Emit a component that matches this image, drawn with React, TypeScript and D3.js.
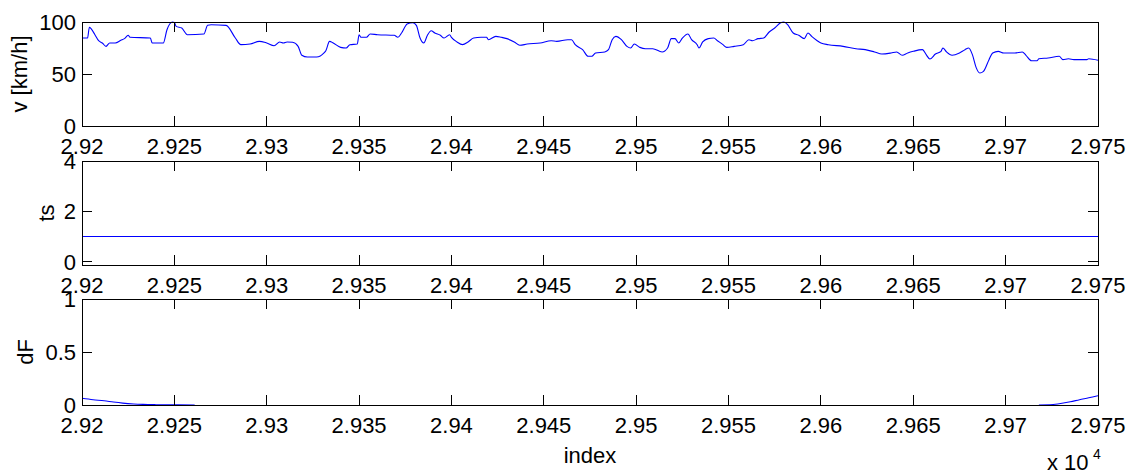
import React from 'react';
import * as d3 from 'd3';

// ---------- data ----------
const xTickValues = [29200, 29250, 29300, 29350, 29400, 29450, 29500, 29550, 29600, 29650, 29700, 29750];
const xTickLabels = ['2.92', '2.925', '2.93', '2.935', '2.94', '2.945', '2.95', '2.955', '2.96', '2.965', '2.97', '2.975'];

const vIndex = [
  29200, 29203, 29204, 29205, 29207, 29209, 29211, 29213, 29215, 29218, 29221, 29223, 29225, 29226, 29237, 29238,
  29244, 29246, 29249, 29250, 29251, 29254, 29257, 29266, 29268, 29270, 29278, 29283, 29286, 29291, 29296, 29300,
  29304, 29307, 29309, 29311, 29314, 29317, 29319, 29322, 29327, 29331, 29332, 29334, 29336, 29340, 29343, 29345,
  29349, 29350, 29351, 29354, 29356, 29360, 29369, 29371, 29373, 29376, 29379, 29381, 29383, 29385, 29387, 29389,
  29391, 29394, 29396, 29399, 29400, 29403, 29406, 29409, 29412, 29416, 29419, 29420, 29424, 29427, 29430, 29434,
  29437, 29441, 29448, 29454, 29457, 29463, 29465, 29467, 29471, 29474, 29476, 29478, 29483, 29485, 29487, 29489,
  29492, 29495, 29497, 29499, 29502, 29505, 29509, 29514, 29517, 29519, 29521, 29523, 29525, 29528, 29530, 29533,
  29534, 29536, 29539, 29542, 29544, 29547, 29549, 29553, 29558, 29561, 29563, 29566, 29569, 29572, 29575, 29578,
  29580, 29582, 29585, 29588, 29591, 29593, 29595, 29598, 29600, 29604, 29612, 29619, 29624, 29629, 29633, 29638,
  29641, 29644, 29647, 29650, 29655, 29657, 29659, 29662, 29665, 29666, 29668, 29671, 29675, 29678, 29680, 29682,
  29684, 29686, 29688, 29691, 29693, 29696, 29699, 29705, 29709, 29711, 29714, 29717, 29718, 29723, 29729, 29731,
  29734, 29737, 29744, 29745, 29750,
];
const vValues = [
  84.6, 84.6, 94.9, 93.3, 87.8, 82.0, 79.8, 76.6, 79.8, 79.8, 82.4, 84.0, 87.2, 85.3, 84.6, 79.8,
  79.8, 92.6, 100, 99.5, 95.8, 94.2, 87.8, 88.5, 96.8, 97.4, 96.8, 84.6, 78.2, 78.8, 81.4, 79.8,
  77.2, 80.8, 79.8, 80.8, 80.5, 76.6, 68.0, 66.3, 66.3, 70.2, 72.4, 81.4, 79.8, 75.6, 75.0, 78.2,
  78.8, 87.8, 85.3, 85.3, 88.5, 87.8, 87.2, 85.3, 89.4, 98.0, 99.4, 96.8, 84.6, 79.8, 87.2, 91.6,
  89.4, 87.2, 84.6, 87.8, 85.3, 80.8, 78.2, 80.8, 84.6, 85.3, 85.3, 83.0, 86.2, 85.3, 84.0, 80.8,
  77.6, 78.8, 79.8, 82.0, 81.4, 83.0, 83.0, 78.2, 73.4, 67.0, 67.0, 70.2, 71.2, 73.4, 83.0, 86.2,
  83.0, 76.6, 75.0, 78.8, 75.6, 74.3, 74.3, 71.2, 75.0, 84.0, 84.0, 79.8, 84.6, 88.5, 83.0, 78.2,
  75.0, 80.8, 84.0, 84.6, 82.0, 78.2, 75.6, 76.6, 78.2, 83.0, 82.0, 84.0, 84.6, 90.4, 94.2, 99.0,
  100, 97.4, 89.4, 87.2, 84.0, 89.4, 86.2, 82.0, 79.8, 78.2, 76.6, 74.3, 73.4, 71.2, 69.2, 70.2,
  71.2, 68.0, 70.2, 71.8, 73.4, 68.6, 64.4, 69.2, 71.8, 75.0, 71.2, 68.0, 70.2, 73.4, 75.0, 68.6,
  56.4, 51.0, 52.6, 63.8, 70.2, 71.8, 70.2, 70.2, 71.2, 68.0, 62.8, 62.8, 64.7, 65.4, 67.0, 63.8,
  64.7, 63.8, 63.8, 64.7, 63.2,
];

const tsIndex = [29200, 29750];
const tsValues = [1, 1];

const dfIndex = [
  29200, 29206, 29212, 29217, 29222, 29228, 29233, 29240, 29250, 29261, 29262,
  29717, 29718, 29724, 29729, 29735, 29740, 29745, 29750,
];
const dfValues: (number | null)[] = [
  0.063, 0.05, 0.04, 0.028, 0.018, 0.01, 0.006, 0.003, 0.001, 0, null,
  null, 0, 0.002, 0.012, 0.03, 0.05, 0.068, 0.088,
];

const vTicks = [0, 50, 100];
const vTickLabels = ['0', '50', '100'];
const tsTicks = [0, 2, 4];
const tsTickLabels = ['0', '2', '4'];
const dfTicks = [0, 0.5, 1];
const dfTickLabels = ['0', '0.5', '1'];

// ---------- layout ----------
const W = 1133;
const H = 472;
const left = 82;
const right = 1098;
const FONT = '"Liberation Sans", Arial, Helvetica, sans-serif';
const FS = 22;
const TICK = 10;

type Panel = {
  top: number;
  bottom: number;
  domain: [number, number];
  xs: number[];
  ys: (number | null)[];
  ticks: number[];
  tickLabels: string[];
  label: string;
  labelX: number;
};

const panels: Panel[] = [
  { top: 22, bottom: 126, domain: [0, 100], xs: vIndex, ys: vValues, ticks: vTicks, tickLabels: vTickLabels, label: 'v [km/h]', labelX: 27 },
  { top: 161, bottom: 265, domain: [-0.13, 4], xs: tsIndex, ys: tsValues, ticks: tsTicks, tickLabels: tsTickLabels, label: 'ts', labelX: 54 },
  { top: 299, bottom: 405, domain: [0, 1], xs: dfIndex, ys: dfValues, ticks: dfTicks, tickLabels: dfTickLabels, label: 'dF', labelX: 33 },
];

export default function App() {
  const x = d3.scaleLinear().domain([29200, 29750]).range([left, right]);

  return (
    <svg
      width={W}
      height={H}
      style={{ position: 'absolute', left: 0, top: 0, background: '#fff' }}
      fontFamily={FONT}
    >
      <rect x={0} y={0} width={W} height={H} fill="#fff" />
      {panels.map((p, pi) => {
        const y = d3.scaleLinear().domain(p.domain).range([p.bottom, p.top]);
        const pts = p.xs.map((xv, i) => [xv, p.ys[i]] as [number, number | null]);
        const line = d3
          .line<[number, number | null]>()
          .defined((d) => d[1] !== null)
          .curve(d3.curveMonotoneX)
          .x((d) => x(d[0]))
          .y((d) => y(d[1] as number));
        const cy = (p.top + p.bottom) / 2;
        return (
          <g key={pi}>
            <path d={line(pts) || ''} fill="none" stroke="#0000ff" strokeWidth={1.1} />
            <rect
              x={left}
              y={p.top}
              width={right - left}
              height={p.bottom - p.top}
              fill="none"
              stroke="#000"
              strokeWidth={1}
              shapeRendering="crispEdges"
            />
            {xTickValues.map((t, i) => (
              <g key={'x' + i}>
                <line x1={x(t)} x2={x(t)} y1={p.bottom} y2={p.bottom - TICK} stroke="#000" shapeRendering="crispEdges" />
                <line x1={x(t)} x2={x(t)} y1={p.top} y2={p.top + TICK} stroke="#000" shapeRendering="crispEdges" />
                <text x={x(t)} y={p.bottom + 28} textAnchor="middle" fontSize={FS} fill="#000">
                  {xTickLabels[i]}
                </text>
              </g>
            ))}
            {p.ticks.map((t, i) => (
              <g key={'y' + i}>
                <line x1={left} x2={left + TICK} y1={y(t)} y2={y(t)} stroke="#000" shapeRendering="crispEdges" />
                <line x1={right} x2={right - TICK} y1={y(t)} y2={y(t)} stroke="#000" shapeRendering="crispEdges" />
                <text x={76} y={y(t) + 8} textAnchor="end" fontSize={FS} fill="#000">
                  {p.tickLabels[i]}
                </text>
              </g>
            ))}
            <text
              transform={`translate(${p.labelX},${cy}) rotate(-90)`}
              textAnchor="middle"
              fontSize={FS}
              fill="#000"
            >
              {p.label}
            </text>
          </g>
        );
      })}
      <text x={(left + right) / 2} y={463} textAnchor="middle" fontSize={FS} fill="#000">
        index
      </text>
      <text x={1047} y={470} fontSize={FS} fill="#000">
        x 10
      </text>
      <text x={1093} y={459} fontSize={14} fill="#000">
        4
      </text>
    </svg>
  );
}
